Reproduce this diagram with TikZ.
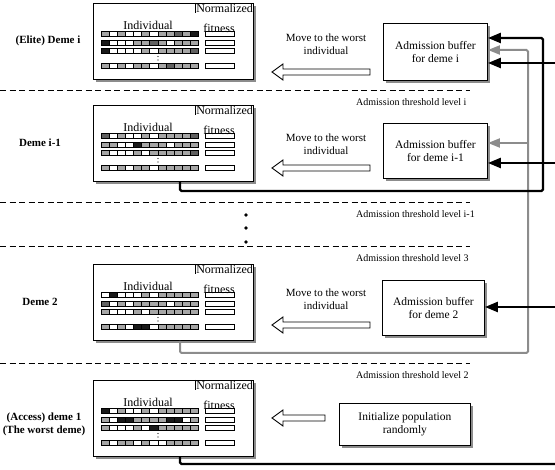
\documentclass[tikz,border=0pt]{standalone}
\usepackage{fontspec}
\setmainfont{Liberation Serif}
\usetikzlibrary{arrows.meta,shadows,calc}
\colorlet{cellw}{white}
\colorlet{cellg}{black!35}
\colorlet{celld}{black!62}
\colorlet{cellk}{black!90}
\colorlet{connGray}{black!45}
\colorlet{shadeGray}{black!45}

\tikzset{
  boxshadow/.style={drop shadow={shadow xshift=2.5pt, shadow yshift=-2.5pt, fill=shadeGray, opacity=1}},
  demebox/.style={draw, line width=0.9pt, fill=white, minimum width=160pt, minimum height=76pt,
    anchor=north west, inner sep=0pt, boxshadow},
  bufbox/.style={draw, line width=0.9pt, fill=white, anchor=north west, inner sep=0pt, align=center,
    font=\fontsize{11.5}{13}\selectfont, boxshadow},
  bigtext/.style={font=\fontsize{12}{13}\selectfont, inner sep=0.8pt},
  movetext/.style={font=\fontsize{11}{12.5}\selectfont, align=center, inner sep=0pt},
  demelabel/.style={font=\bfseries\fontsize{11}{13}\selectfont, align=center, inner sep=0pt},
  thrtext/.style={font=\fontsize{10}{12}\selectfont, anchor=west, inner sep=0pt},
  dashline/.style={line width=0.6pt, dash pattern=on 6pt off 3.5pt},
  blk/.style={line width=2.4pt, draw=black, rounded corners=1.5pt, -{Triangle[length=13pt,width=10pt]}},
  blkline/.style={line width=2.4pt, draw=black, rounded corners=1.5pt},
  gry/.style={line width=2pt, draw=connGray, rounded corners=1.5pt, -{Triangle[length=12pt,width=9pt]}},
  harrow/.pic={
    \draw[line width=0.9pt, fill=white, line join=miter]
      (0,0) -- (11,-8) -- (11,-3) -- (#1,-3) -- (#1,3) -- (11,3) -- (11,8) -- cycle;
  }
}

\newcommand\chromrow[3]{%
  \foreach \c [count=\i from 0] in {#3} {
    \filldraw[draw=black, line width=0.35pt, fill=cell\c] ({#1+\i*8.1},{#2-2.6}) rectangle ++(8.1,5.2);
  }
  \draw[line width=0.6pt] (205,{#2-2.6}) rectangle (234,{#2+2.6});
}

\newcommand\demecontent[6]{%
  \node[demebox] (#1) at (93,#2) {};
  \node[bigtext, anchor=north east] (#1n) at (#1.north east) {Normalized};
  \draw[line width=0.5pt] (#1n.north west) -- (#1n.south west);
  \node[bigtext] (#1f) at (219,{#2+25}) {fitness};
  \node[bigtext] (#1i) at (148,{#2+22}) {Individual};
  \chromrow{101}{#2+31}{#3}
  \chromrow{101}{#2+39.5}{#4}
  \chromrow{101}{#2+48}{#5}
  \chromrow{101}{#2+63}{#6}
  \fill (158,{#2+53.5}) circle (0.55);
  \fill (158,{#2+57}) circle (0.55);
}

\begin{document}
\begin{tikzpicture}[x=1pt, y=-1pt]
\useasboundingbox (0,0) rectangle (555,470);

% dashed threshold lines
\draw[dashline] (0,90) -- (470,90);
\draw[dashline] (0,202) -- (470,202);
\draw[dashline] (0,246) -- (470,246);
\draw[dashline] (0,363) -- (470,363);
\node[thrtext] (t1) at (356,102) {Admission threshold level i};
\node[thrtext] (t2) at (356,214) {Admission threshold level i-1};
\node[thrtext] (t3) at (356,258) {Admission threshold level 3};
\node[thrtext] (t4) at (356,375) {Admission threshold level 2};

% vertical dots
\fill (246,215) circle (1.8);
\fill (246,228) circle (1.8);
\fill (246,242) circle (1.8);

% demes
\demecontent{di}{3}{g,w,g,w,w,g,w,g,g,d,g,k}{k,w,w,w,g,g,d,g,w,g,g,g}{k,w,w,w,w,g,w,g,g,g,g,d}{g,w,g,w,g,g,w,g,d,g,g,g}
\demecontent{dim}{105}{d,w,g,w,w,g,w,g,g,g,g,d}{g,g,w,w,k,g,g,g,w,g,g,g}{g,w,w,w,g,w,g,g,g,g,g,d}{g,w,g,w,g,g,w,g,g,g,g,g}
\demecontent{dtwo}{264}{w,k,w,w,w,g,w,g,g,g,g,g}{d,w,g,w,g,g,g,g,w,g,g,g}{g,w,w,w,g,w,g,g,g,g,g,g}{g,w,g,w,k,k,w,g,g,g,g,g}
\demecontent{done}{380}{k,w,g,w,w,g,w,g,g,g,g,g}{g,w,k,k,g,g,g,g,k,k,w,g}{g,w,w,w,g,w,k,g,g,g,g,g}{g,w,g,g,w,g,w,w,g,g,g,g}

% deme labels
\node[demelabel] (li) at (48,41) {(Elite) Deme i};
\node[demelabel] (lim) at (40,143) {Deme i-1};
\node[demelabel] (ltwo) at (40,302) {Deme 2};
\node[demelabel] (lone) at (44,424) {(Access) deme 1\\(The worst deme)};

% buffers
\node[bufbox, minimum width=104pt, minimum height=57pt] (bi) at (383,23) {Admission buffer\\for deme i};
\node[bufbox, minimum width=104pt, minimum height=55pt] (bim) at (383,123) {Admission buffer\\for deme i-1};
\node[bufbox, minimum width=102pt, minimum height=55pt] (btwo) at (382,280) {Admission buffer\\for deme 2};
\node[bufbox, minimum width=131pt, minimum height=42pt] (binit) at (339,403) {Initialize population\\randomly};

% move texts and hollow arrows
\node[movetext] (mi) at (326,44) {Move to the worst\\individual};
\node[movetext] (mim) at (326,144) {Move to the worst\\individual};
\node[movetext] (mtwo) at (326,299) {Move to the worst\\individual};
\pic at (272,72) {harrow=98};
\pic at (272,168) {harrow=98};
\pic at (272,325) {harrow=98};
\pic at (272,418) {harrow=53};

% connector coordinates
\coordinate (gcorner) at (528,353);
\coordinate (gtop) at (528,50);
\coordinate (gbranch) at (528,143);
\coordinate (bcorner) at (543,191);
\coordinate (btop) at (543,38);
\coordinate (eone) at (555,63);
\coordinate (etwo) at (555,163);
\coordinate (ethree) at (555,307);
\coordinate (efour) at (555,464);

% gray connector from deme 2
\draw[gry] ($(dtwo.south west)+(87,0)$) |- (gcorner) -- (gtop) -- ($(bi.north east)+(0,27)$);
\draw[gry] (gbranch) -- ($(bim.north east)+(0,20)$);

% black connector from deme i-1
\draw[blk] ($(dim.south west)+(87,0)$) |- (bcorner) -- (btop) -- ($(bi.north east)+(0,15)$);

% black connectors from the access deme
\draw[blkline] ($(done.south west)+(87,0)$) |- (efour);
\draw[blk] (eone) -- ($(bi.north east)+(0,40)$);
\draw[blk] (etwo) -- ($(bim.north east)+(0,40)$);
\draw[blk] (ethree) -- ($(btwo.north east)+(0,27)$);
\end{tikzpicture}
\end{document}
